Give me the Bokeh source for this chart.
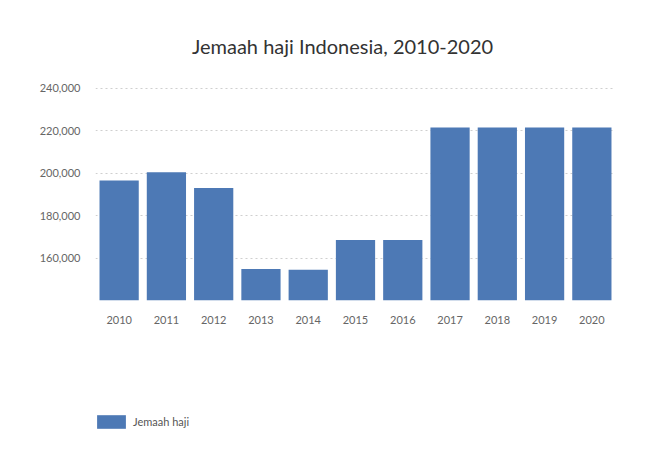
from bokeh.plotting import figure
from bokeh.layouts import column
from bokeh.models import (FactorRange, Range1d, FixedTicker, NumeralTickFormatter,
                          Legend, LegendItem, ColumnDataSource, Label)
from bokeh.embed import file_html
from bokeh.resources import INLINE

years = ["2010", "2011", "2012", "2013", "2014", "2015", "2016", "2017", "2018", "2019", "2020"]
jemaah = [196500, 200400, 192900, 154800, 154500, 168500, 168500, 221400, 221400, 221400, 221400]
y_ticks = [160000, 180000, 200000, 220000, 240000]
title_text = "Jemaah haji Indonesia, 2010-2020"
series_name = "Jemaah haji"

FONT = "Lato"
BAR = "#4d79b5"
W = 651
LEFT, RIGHT = 95, 36


def blank(h):
    # frame is aligned with the main chart's frame (x from LEFT to W-RIGHT)
    f = figure(width=W, height=h, output_backend="svg", toolbar_location=None,
               x_axis_type=None, y_axis_type=None,
               x_range=Range1d(LEFT, W - RIGHT), y_range=Range1d(0, h),
               min_border=0, min_border_left=LEFT, min_border_right=RIGHT)
    f.outline_line_color = None
    f.xgrid.grid_line_color = None
    f.ygrid.grid_line_color = None
    f.background_fill_color = "white"
    f.border_fill_color = "white"
    return f


# header with title
head = blank(70)
head.add_layout(Label(x=342, y=25, text=title_text, text_font=FONT,
                      text_font_size="20px", text_color="#333333",
                      text_align="center", text_baseline="middle"))

# main chart
p = figure(width=W, height=275, output_backend="svg", toolbar_location=None,
           x_range=FactorRange(*years, range_padding=0.0),
           y_range=Range1d(140000, 244000),
           min_border_left=LEFT, min_border_right=RIGHT, min_border_top=9, min_border_bottom=45)

src = ColumnDataSource(dict(x=years, top=jemaah))
r = p.vbar(x="x", top="top", bottom=140000, width=0.83, source=src,
           fill_color=BAR, line_color=None)

p.outline_line_color = None
p.background_fill_color = "white"
p.border_fill_color = "white"

p.xgrid.grid_line_color = None
p.ygrid.grid_line_color = "#cfcfcf"
p.ygrid.grid_line_dash = "2 3"
p.ygrid.ticker = FixedTicker(ticks=y_ticks)

p.yaxis.ticker = FixedTicker(ticks=y_ticks)
p.yaxis.formatter = NumeralTickFormatter(format="0,0")
for ax in (p.xaxis, p.yaxis):
    ax.axis_line_color = None
    ax.major_tick_line_color = None
    ax.minor_tick_line_color = None
    ax.major_label_text_font = FONT
    ax.major_label_text_font_size = "11px"
    ax.major_label_text_color = "#666666"
p.yaxis.major_label_standoff = 9
p.xaxis.major_label_standoff = 9

# legend footer (proxy renderer with a zero-height bar, only used for the legend swatch)
foot = blank(115)
lr = foot.vbar(x=[LEFT], top=[0], bottom=[0], width=1, fill_color=BAR, line_color=None)
legend = Legend(items=[LegendItem(label=series_name, renderers=[lr])],
                location=(-2, 30), glyph_width=36, glyph_height=17,
                label_text_font=FONT, label_text_font_size="11px",
                label_text_color="#555555", padding=0, margin=0,
                border_line_color=None, background_fill_alpha=0,
                label_standoff=4)
foot.add_layout(legend, "center")

layout = column(head, p, foot, spacing=0)
open("out.html", "w").write(file_html(layout, INLINE))
